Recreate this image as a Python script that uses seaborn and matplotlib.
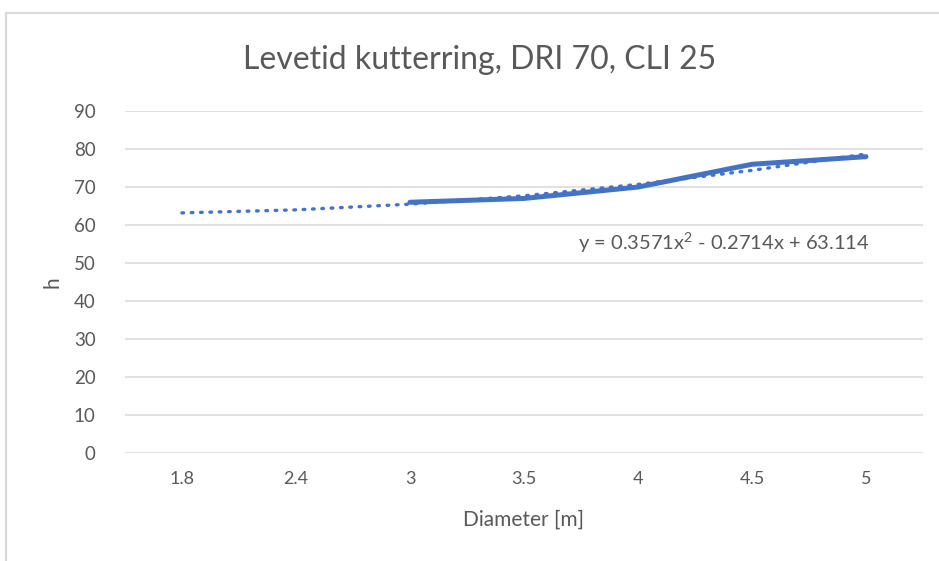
import matplotlib
matplotlib.use("Agg")
import matplotlib.pyplot as plt
import seaborn as sns
import pandas as pd
from matplotlib.lines import Line2D

# data
diameters = ["1.8", "2.4", "3", "3.5", "4", "4.5", "5"]
lifetime_h = [None, None, 66, 67, 70, 76, 78]
trend_h = [63.2, 64.0, 65.5, 67.7, 70.7, 74.4, 78.7]
y_ticks = [0, 10, 20, 30, 40, 50, 60, 70, 80, 90]
equation = r"y = 0.3571x$^{2}$ - 0.2714x + 63.114"

blue = "#4472C4"
grey_text = "#595959"
grid_col = "#D9D9D9"

sns.set_theme(style="white")
plt.rcParams["font.family"] = ["Lato", "DejaVu Sans"]
plt.rcParams["mathtext.fontset"] = "custom"
plt.rcParams["mathtext.rm"] = "Lato"
plt.rcParams["mathtext.it"] = "Lato"
plt.rcParams["mathtext.default"] = "regular"

df = pd.DataFrame({"d": diameters, "h": lifetime_h, "trend": trend_h})

fig = plt.figure(figsize=(9.39, 5.61), dpi=100)
ax = fig.add_axes([0.133, 0.1925, 0.85, 0.6095])

# trendline (dotted)
sns.lineplot(data=df, x="d", y="trend", ax=ax, sort=False,
             color=blue, linewidth=2.4, linestyle=(0, (0.5, 2.3)),
             dash_capstyle="round")
# measured series
sns.lineplot(data=df.dropna(), x="d", y="h", ax=ax, sort=False,
             color=blue, linewidth=3.6, solid_capstyle="round")

ax.set_xlim(-0.5, len(diameters) - 0.5)
ax.set_ylim(0, 90)
ax.set_yticks(y_ticks)
ax.yaxis.grid(True, color=grid_col, linewidth=1.1)
ax.set_axisbelow(True)
for s in ["top", "right", "left", "bottom"]:
    ax.spines[s].set_visible(False)
ax.tick_params(axis="both", length=0, colors=grey_text)
ax.tick_params(axis="y", labelsize=13.5, pad=21)
ax.tick_params(axis="x", labelsize=13, pad=13)

ax.set_xlabel("Diameter [m]", fontsize=15, color=grey_text, labelpad=16)
ax.set_ylabel("h", fontsize=15, color=grey_text, labelpad=8)

ax.text(3.47, 55.2, equation, fontsize=14.5, color=grey_text,
        ha="left", va="center")

fig.text(0.511, 0.893, "Levetid kutterring, DRI 70, CLI 25",
         fontsize=23, color=grey_text, ha="center", va="center")

# chart-area frame (only top and left are visible)
fy = 1 - 13 / 561
fx = 5.5 / 939
fig.add_artist(Line2D([fx, 1.0], [fy, fy], color=grid_col, linewidth=1.5,
                      transform=fig.transFigure))
fig.add_artist(Line2D([fx, fx], [0.0, fy], color=grid_col, linewidth=1.5,
                      transform=fig.transFigure))

fig.savefig("out.png", dpi=100)
